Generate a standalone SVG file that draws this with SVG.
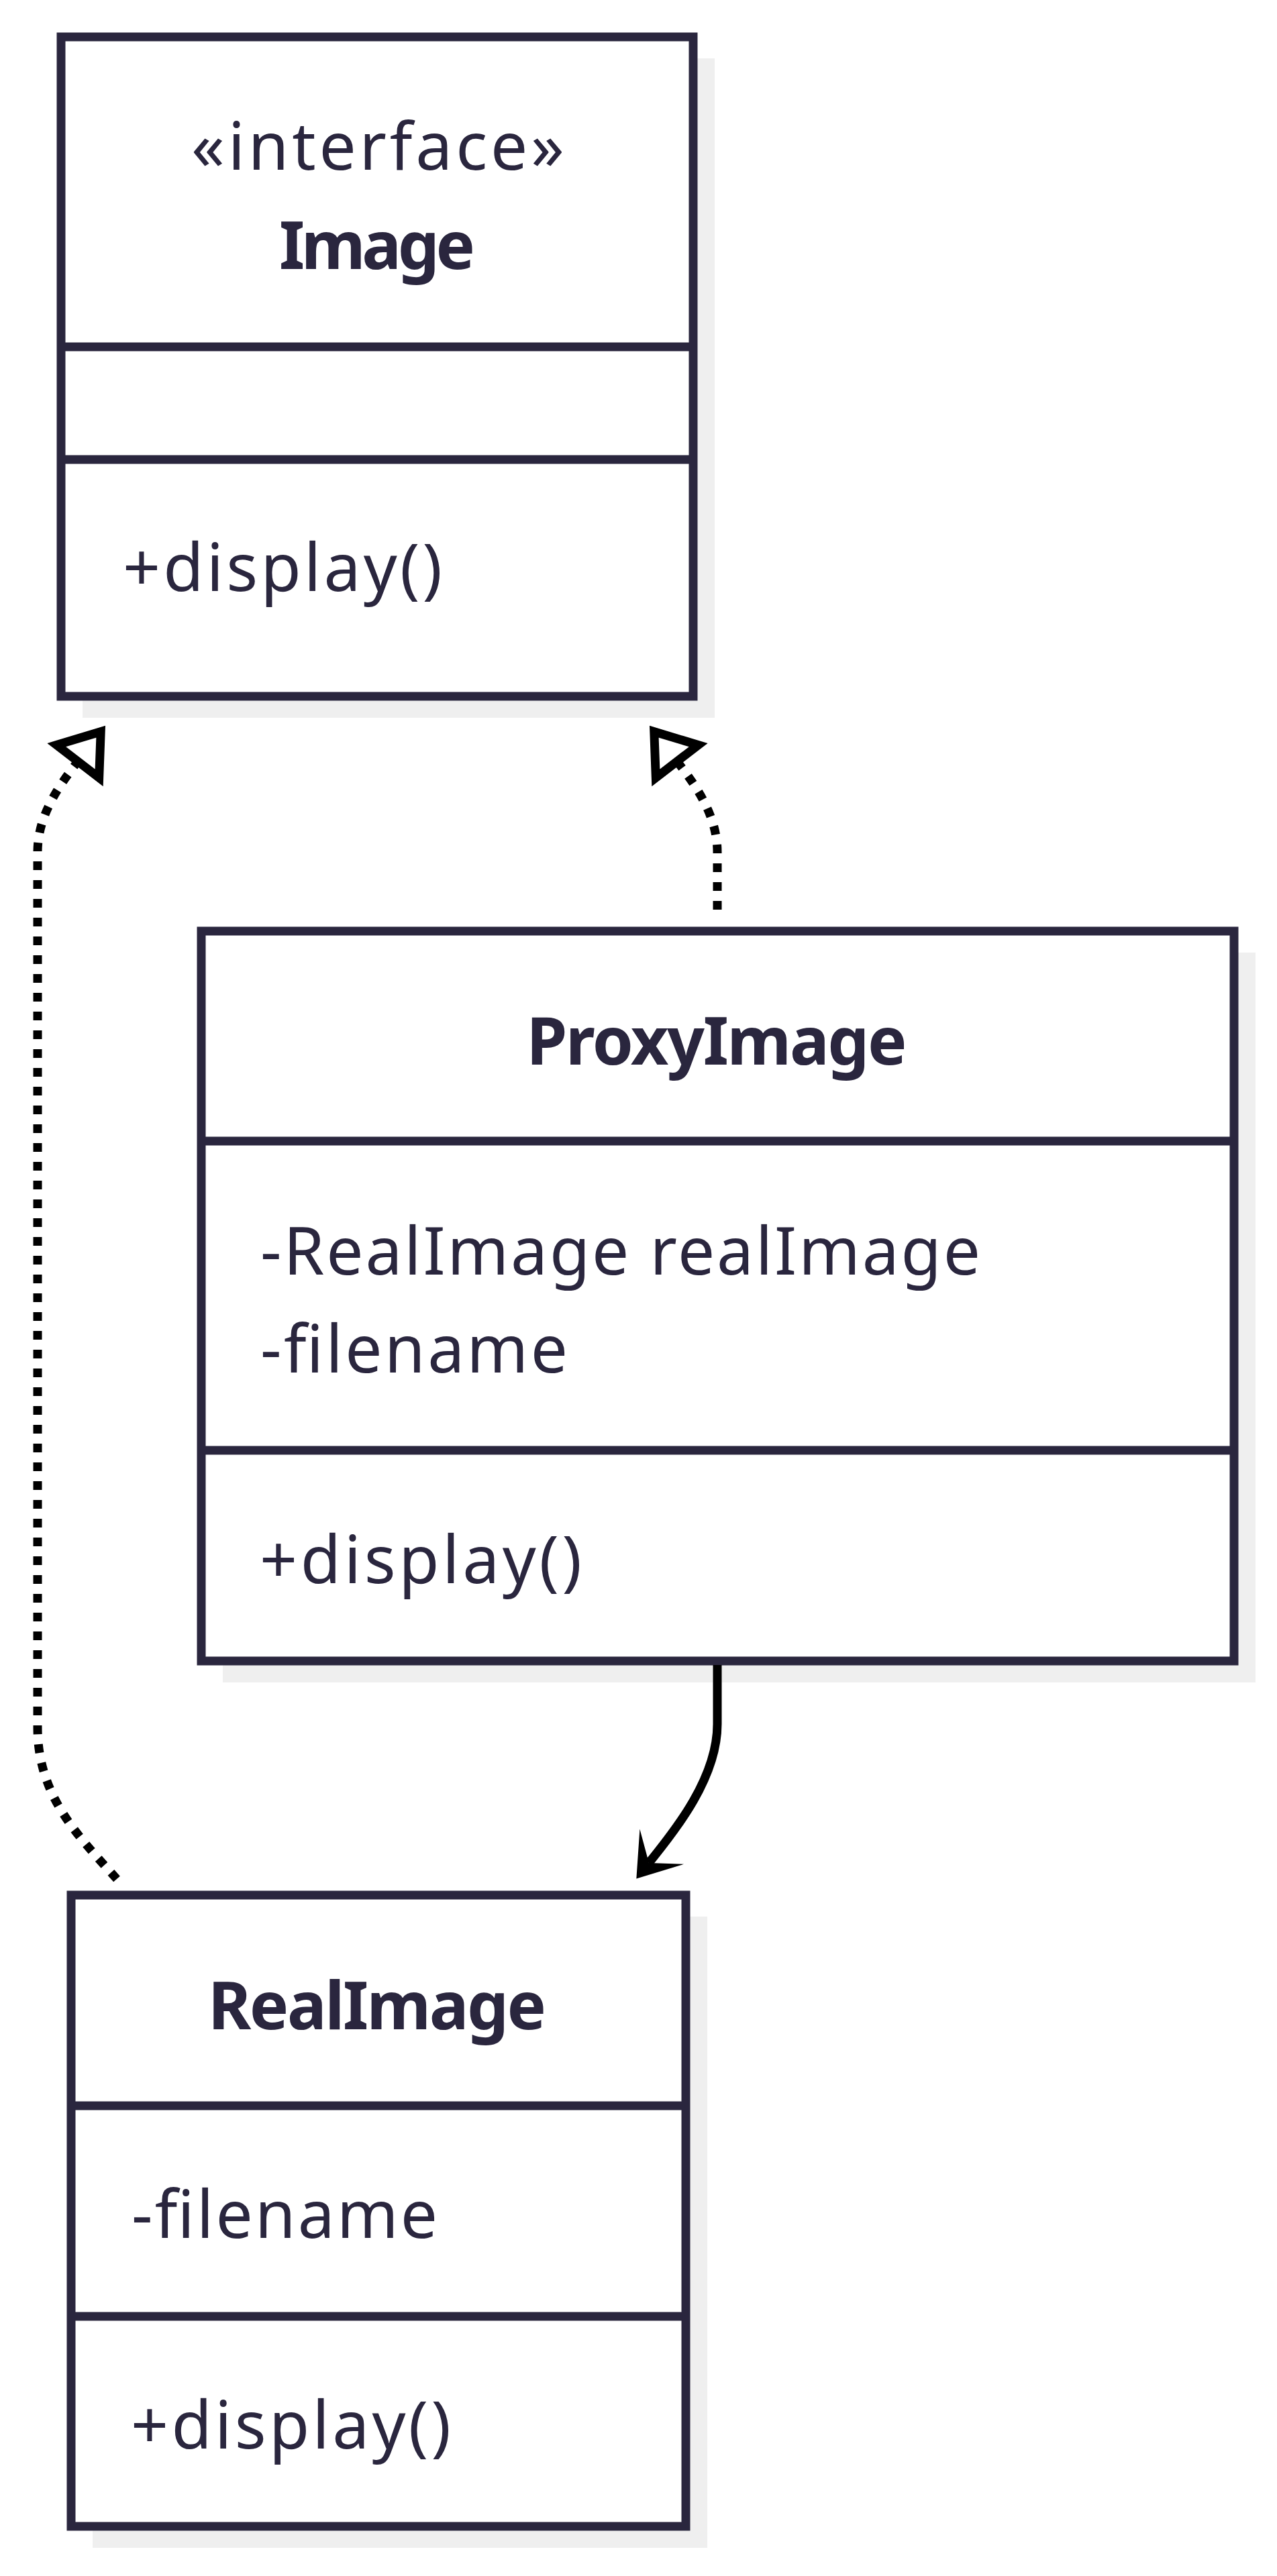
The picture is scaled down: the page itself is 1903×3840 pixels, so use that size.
<svg xmlns="http://www.w3.org/2000/svg" width="1903" height="3840" viewBox="0 0 1903 3840">
<style>
.bg{fill:#ffffff}
.shadow{fill:#efefef}
.box{fill:#ffffff;stroke:#2a263e;stroke-width:13}
.div{stroke:#2a263e;stroke-width:13}
.t{font-family:"Noto Sans","Open Sans","DejaVu Sans",sans-serif;font-size:98px;fill:#2a263e}
.b{font-weight:700}
.m{text-anchor:middle}
.dot{fill:none;stroke:#000000;stroke-width:13;stroke-dasharray:13 15}
.solid{fill:none;stroke:#000000;stroke-width:13}
</style>
<defs>
<marker id="realize" markerUnits="userSpaceOnUse" orient="auto" refX="0" refY="0" markerWidth="80" markerHeight="100" viewBox="-10 -50 80 100" overflow="visible">
<path d="M0,-40 L56,0 L0,40 Z" fill="#ffffff" stroke="#000000" stroke-width="13" stroke-dasharray="none" stroke-linejoin="miter"/>
</marker>
<marker id="assoc" markerUnits="userSpaceOnUse" orient="auto" refX="0" refY="0" markerWidth="80" markerHeight="100" viewBox="-40 -50 80 100" overflow="visible">
<path d="M30,0 L-31,-42 L0,0 L-31,42 Z" fill="#000000" stroke="none"/>
</marker>
</defs>
<rect class="bg" x="0" y="0" width="1903" height="3840"/>

<g id="Image">
<rect class="shadow" x="123" y="87" width="942" height="983"/>
<rect class="box" x="91" y="55" width="942" height="983"/>
<line class="div" x1="91" y1="517" x2="1033" y2="517"/>
<line class="div" x1="91" y1="685" x2="1033" y2="685"/>
<text class="t m" x="563" y="253" textLength="556" lengthAdjust="spacing">«interface»</text>
<text class="t b m" x="562" y="401" textLength="292" lengthAdjust="spacing">Image</text>
<text class="t" x="183" y="881" textLength="476" lengthAdjust="spacing">+display()</text>
</g>

<g id="ProxyImage">
<rect class="shadow" x="332" y="1420" width="1539" height="1088"/>
<rect class="box" x="300" y="1388" width="1539" height="1088"/>
<line class="div" x1="300" y1="1701" x2="1839" y2="1701"/>
<line class="div" x1="300" y1="2162" x2="1839" y2="2162"/>
<text class="t b m" x="1068" y="1587" textLength="567" lengthAdjust="spacing">ProxyImage</text>
<text class="t" x="388" y="1900" textLength="1073" lengthAdjust="spacing">-RealImage realImage</text>
<text class="t" x="388" y="2046" textLength="458" lengthAdjust="spacing">-filename</text>
<text class="t" x="387" y="2360" textLength="480" lengthAdjust="spacing">+display()</text>
</g>

<g id="RealImage">
<rect class="shadow" x="138" y="2857" width="916" height="941"/>
<rect class="box" x="106" y="2825" width="916" height="941"/>
<line class="div" x1="106" y1="3139" x2="1022" y2="3139"/>
<line class="div" x1="106" y1="3453" x2="1022" y2="3453"/>
<text class="t b m" x="562" y="3025" textLength="504" lengthAdjust="spacing">RealImage</text>
<text class="t" x="196" y="3336" textLength="456" lengthAdjust="spacing">-filename</text>
<text class="t" x="195" y="3650" textLength="477" lengthAdjust="spacing">+display()</text>
</g>

<g id="connectors">
<path id="RealImage-Image" class="dot" d="M174,2801 C120,2740 56,2680 56,2575 L56,1270 C56,1215 89,1170 116,1135" marker-end="url(#realize)"/>
<path id="ProxyImage-Image" class="dot" d="M1069,1356 L1069,1270 C1069,1215 1036,1170 1009,1135" marker-end="url(#realize)"/>
<path id="ProxyImage-RealImage" class="solid" d="M1069,2482 L1069,2570 C1069,2655 998,2738 967,2777" marker-end="url(#assoc)"/>
</g>
</svg>
